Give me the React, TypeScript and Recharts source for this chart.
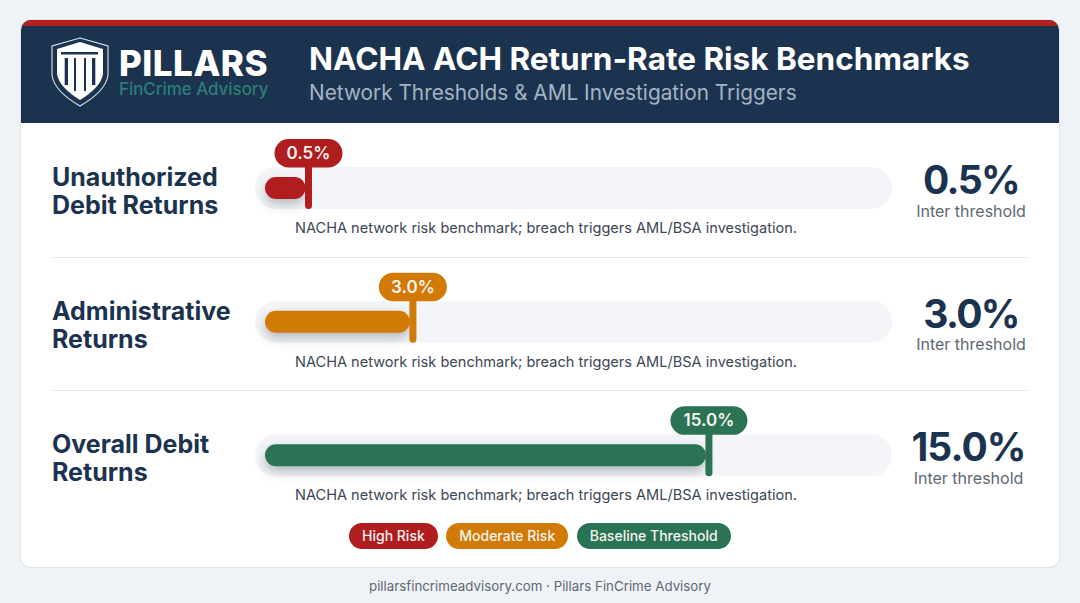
import { Bar, BarChart, XAxis, YAxis } from "recharts";

const categories = ["Unauthorized Debit Returns", "Administrative Returns", "Overall Debit Returns"];
const categoryLines = [
  ["Unauthorized", "Debit Returns"],
  ["Administrative", "Returns"],
  ["Overall Debit", "Returns"],
];
const values = [0.5, 3.0, 15.0];
const barColors = ["#b01d1f", "#d17a06", "#2a7455"];
const legendLabels = ["High Risk", "Moderate Risk", "Baseline Threshold"];
const noteText = "NACHA network risk benchmark; breach triggers AML/BSA investigation.";
const subLabel = "Inter threshold";

// the source bars are not linear in the value, this power fits all three
const SCALE_POWER = 0.683;
const AXIS_MAX = 8.979;

const FONT = "Inter, sans-serif";
const NAVY = "#1c3350";

const data = categories.map((name, i) => ({ name, value: values[i], index: i }));

function CategoryTick({ y, payload, index }: any) {
  const i = payload?.index ?? index ?? 0;
  const lines = categoryLines[i];
  return (
    <text x={52} y={y} fontFamily={FONT} fontSize={25} fontWeight={700} fill={NAVY}>
      <tspan x={52} dy={-2}>{lines[0]}</tspan>
      <tspan x={52} dy={28}>{lines[1]}</tspan>
    </text>
  );
}

function RowShape(props: any) {
  const { x, y, width, height, background, index } = props;
  const color = barColors[index];
  const value = values[index];
  const cy = y + height / 2;
  const end = x + width;
  const label = `${value.toFixed(1)}%`;
  const pillW = value >= 10 ? 77 : 68;
  const rightX = index === 2 ? 968.5 : 971;
  return (
    <g>
      <rect
        x={x - 10}
        y={cy - 21}
        width={background.x + background.width - x + 10}
        height={42}
        rx={21}
        fill="#f3f5f8"
      />
      <rect
        x={x}
        y={y}
        width={width - 3}
        height={height}
        rx={11}
        fill={color}
        style={{ filter: "drop-shadow(0px 5px 6px rgba(30,40,50,0.3))" }}
      />
      <rect x={end - 3.5} y={cy - 25} width={7} height={46} rx={3.5} fill={color} />
      <rect x={end - pillW / 2} y={cy - 49} width={pillW} height={28.5} rx={14.25} fill={color} />
      <text
        x={end}
        y={cy - 29}
        textAnchor="middle"
        fontFamily={FONT}
        fontSize={17}
        fontWeight={600}
        fill="#f7f3ee"
      >
        {label}
      </text>
      <text x={295} y={cy + 45} fontFamily={FONT} fontSize={14.57} fill="#3c4856">
        {noteText}
      </text>
      <text
        x={rightX}
        y={cy + 6}
        textAnchor="middle"
        fontFamily={FONT}
        fontSize={39}
        fontWeight={700}
        letterSpacing={value >= 10 ? -0.9 : -1.6}
        fill={NAVY}
      >
        {label}
      </text>
      <text x={rightX} y={cy + 28.5} textAnchor="middle" fontFamily={FONT} fontSize={16} fill="#5d6874">
        {subLabel}
      </text>
    </g>
  );
}

function Logo() {
  return (
    <svg width={70} height={80} style={{ position: "absolute", left: 45, top: 32 }} viewBox="45 32 70 80">
      <path
        d="M80 38 L108 46 V75 Q106 91 80 106 Q54 91 52 75 V46 Z"
        fill="none"
        stroke="#dfe6ec"
        strokeWidth={1.1}
      />
      <path d="M80 42 L103 49 V74 Q101 87 80 100 Q59 87 57 74 V49 Z" fill="#ffffff" />
      <rect x={61} y={52} width={37} height={2.5} fill={NAVY} />
      <rect x={64.7} y={58} width={3.3} height={27} fill={NAVY} />
      <rect x={74} y={58} width={2} height={33} fill={NAVY} />
      <rect x={84} y={58} width={2} height={33} fill={NAVY} />
      <rect x={92} y={58} width={3.3} height={27} fill={NAVY} />
    </svg>
  );
}

const abs = (left: number, top: number, extra: any = {}) => ({
  position: "absolute" as const,
  left,
  top,
  whiteSpace: "nowrap" as const,
  fontFamily: FONT,
  ...extra,
});

export default function App() {
  return (
    <div style={{ position: "absolute", left: 0, top: 0, width: 1080, height: 603, background: "#eff3f8", overflow: "hidden" }}>
      <div
        style={{
          position: "absolute",
          left: 21,
          top: 20,
          width: 1038,
          height: 547,
          background: "#ffffff",
          borderRadius: 10,
          boxShadow: "0 0 0 1px #e2e6eb",
          overflow: "hidden",
        }}
      >
        <div style={{ position: "absolute", left: 0, top: 0, width: 1038, height: 103, background: NAVY, borderTop: "6px solid #b51f20", boxSizing: "border-box" }} />
      </div>
      <Logo />
      <div style={abs(119, 43, { fontSize: 35, lineHeight: "40px", fontWeight: 800, color: "#ffffff", letterSpacing: 0.5 })}>PILLARS</div>
      <div style={abs(119, 78, { fontSize: 16.9, lineHeight: "22px", fontWeight: 500, color: "#2a7f78" })}>FinCrime Advisory</div>
      <div style={abs(309, 39, { fontSize: 31.5, lineHeight: "40px", fontWeight: 700, color: "#ffffff" })}>
        NACHA ACH Return-Rate Risk Benchmarks
      </div>
      <div style={abs(309, 79, { fontSize: 20.8, lineHeight: "28px", color: "#a3b4c3" })}>
        Network Thresholds &amp; AML Investigation Triggers
      </div>
      <div style={{ position: "absolute", left: 52, top: 257, width: 976, height: 1, background: "#e4e7eb" }} />
      <div style={{ position: "absolute", left: 52, top: 390, width: 976, height: 1, background: "#e4e7eb" }} />

      <div style={{ position: "absolute", left: 0, top: 0 }}>
        <BarChart
          width={1080}
          height={603}
          data={data}
          layout="vertical"
          barSize={22}
          margin={{ top: 121, right: 188, bottom: 81, left: 52 }}
          accessibilityLayer={false}
        >
          <XAxis type="number" hide domain={[0, AXIS_MAX]} />
          <YAxis
            type="category"
            dataKey="name"
            width={213}
            interval={0}
            axisLine={false}
            tickLine={false}
            tick={(p: any) => <CategoryTick {...p} />}
          />
          <Bar
            dataKey={(d: any) => Math.pow(d.value, SCALE_POWER)}
            isAnimationActive={false}
            shape={(p: any) => <RowShape {...p} />}
          />
        </BarChart>
      </div>

      <div style={{ position: "absolute", left: 349, top: 523, display: "flex", gap: 8.5 }}>
        {legendLabels.map((label, i) => (
          <div
            key={label}
            style={{
              height: 26,
              lineHeight: "26px",
              padding: "0 13px",
              borderRadius: 13,
              background: barColors[i],
              color: "#f6f3ef",
              fontFamily: FONT,
              fontSize: 14,
              fontWeight: 500,
              whiteSpace: "nowrap",
            }}
          >
            {label}
          </div>
        ))}
      </div>
      <div style={{ position: "absolute", left: 0, top: 577, width: 1080, textAlign: "center", fontFamily: FONT, fontSize: 13.3, lineHeight: "18px", color: "#5d6875" }}>
        pillarsfincrimeadvisory.com · Pillars FinCrime Advisory
      </div>
    </div>
  );
}
